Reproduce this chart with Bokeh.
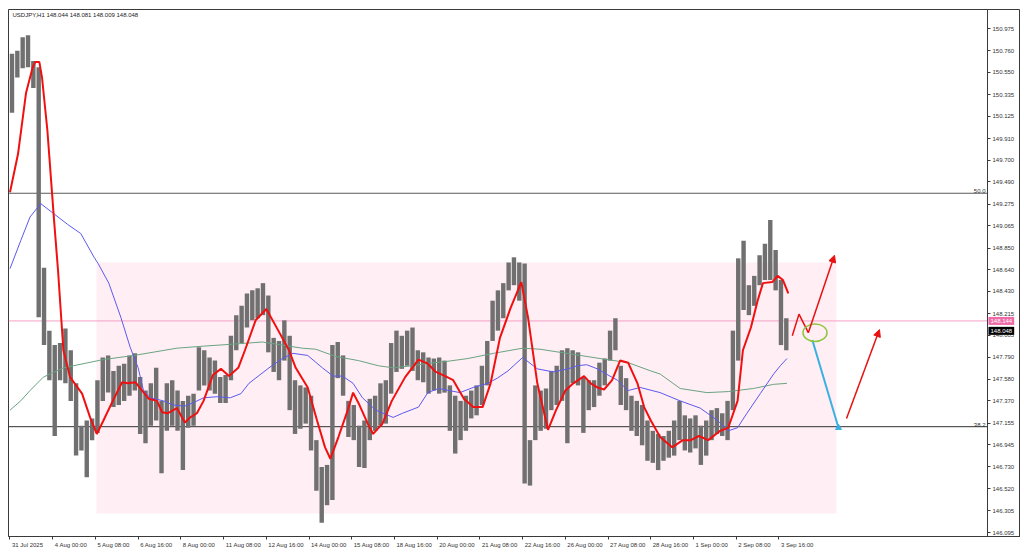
from bokeh.plotting import figure
from bokeh.models import (Range1d, FixedTicker, Label, ColumnDataSource, Arrow, NormalHead)
from bokeh.embed import file_html
from bokeh.resources import INLINE

# ---------------- data ----------------
symbol_info = "USDJPY,H1  148.044 148.081 148.009 148.048"

# H1 bars grouped by 4 hours (high / low), starting 31 Jul 2025 16:00
bars_per_group = 4
bar_high = [150.73, 150.76, 150.89, 150.91, 150.66, 150.60, 148.66, 148.05, 147.91, 147.93,
            148.07, 147.86, 147.54, 147.13, 147.18, 147.20, 147.57, 147.79, 147.81, 147.66,
            147.71, 147.73, 147.81, 147.83, 147.60, 147.47, 147.54, 147.69, 147.37, 147.54,
            147.57, 147.47, 147.37, 147.42, 147.44, 147.89, 147.86, 147.79, 147.76, 147.60,
            147.62, 148.00, 148.20, 148.29, 148.41, 148.44, 148.46, 148.51, 148.39, 147.98,
            147.95, 148.15, 148.00, 147.57, 147.52, 147.50, 147.42, 146.99, 146.73, 146.75,
            147.91, 147.94, 147.81, 147.37, 147.33, 147.13, 147.18, 147.39, 147.42, 147.54,
            147.57, 147.93, 148.05, 148.00, 148.05, 148.08, 147.86, 147.84, 147.79, 147.78,
            147.79, 147.76, 147.52, 147.42, 147.37, 147.42, 147.47, 147.52, 147.71, 147.95,
            148.34, 148.44, 148.51, 148.71, 148.76, 148.71, 148.70, 146.99, 147.52, 147.47,
            147.49, 147.66, 147.71, 147.86, 147.88, 147.86, 147.84, 147.60, 147.57, 147.57,
            147.74, 147.78, 148.05, 148.17, 147.71, 147.59, 147.42, 147.37, 147.33, 147.18,
            147.08, 147.05, 147.03, 147.08, 147.18, 147.37, 147.23, 147.20, 147.23, 147.13,
            147.18, 147.28, 147.30, 147.25, 147.37, 148.05, 148.75, 148.92, 148.49, 148.58,
            148.78, 148.89, 149.12, 148.83, 148.54, 148.17]
bar_low = [150.16, 150.50, 150.59, 150.60, 150.40, 148.18, 147.91, 147.57, 147.03, 147.57,
           147.54, 147.37, 146.84, 146.89, 146.63, 146.99, 147.06, 147.37, 147.45, 147.31,
           147.33, 147.37, 147.42, 147.47, 147.05, 146.96, 147.13, 147.18, 146.67, 147.08,
           147.13, 147.08, 146.70, 147.11, 147.13, 147.47, 147.52, 147.47, 147.44, 147.35,
           147.35, 147.57, 147.86, 147.93, 148.08, 148.15, 148.17, 148.20, 147.84, 147.65,
           147.57, 147.76, 147.28, 147.05, 147.10, 147.15, 146.89, 146.50, 146.19, 146.36,
           146.41, 147.59, 147.42, 147.02, 146.99, 146.73, 146.72, 146.99, 147.08, 147.13,
           147.15, 147.44, 147.65, 147.68, 147.71, 147.66, 147.57, 147.55, 147.44, 147.47,
           147.44, 147.45, 147.08, 146.86, 146.99, 147.08, 147.20, 147.23, 147.33, 147.52,
           147.95, 148.05, 148.17, 148.44, 148.49, 148.34, 146.57, 146.55, 146.99, 147.08,
           147.10, 147.28, 147.33, 147.37, 146.96, 147.54, 147.52, 147.06, 147.28, 147.31,
           147.42, 147.52, 147.76, 147.86, 147.33, 147.28, 147.08, 147.03, 146.94, 146.79,
           146.77, 146.70, 146.79, 146.82, 146.84, 146.99, 146.89, 146.87, 146.91, 146.75,
           146.84, 146.99, 147.05, 147.03, 146.99, 147.28, 147.76, 148.25, 148.20, 148.29,
           148.49, 148.54, 148.54, 148.44, 147.91, 147.86]

# fast (red) moving average: bar index / price
red_x = [0, 6, 12, 17, 19, 22, 24, 28, 33, 36, 40, 45, 54, 60, 65, 70, 77, 84, 88, 94,
         99, 104, 110, 114, 118, 125, 131, 135, 140, 145, 152, 158, 164, 171, 176, 184, 192, 201, 209, 214,
         223, 230, 236, 240, 246, 253, 257, 261, 268, 272, 279, 286, 296, 306, 313, 319, 326, 332, 340, 347,
         354, 360, 367, 375, 383, 388, 395, 403, 409, 416, 422, 430, 435, 440, 445, 451, 457, 463, 470, 475,
         480, 487, 496, 504, 510, 516, 523, 532, 538, 545, 549, 555, 560, 564, 571, 575, 579, 583]
red_y = [149.39, 149.76, 150.35, 150.60, 150.65, 150.65, 150.50, 149.99, 149.12, 148.63,
         147.86, 147.60, 147.44, 147.21, 147.05, 147.18, 147.37, 147.55, 147.54, 147.55,
         147.47, 147.39, 147.37, 147.26, 147.25, 147.30, 147.16, 147.21, 147.25, 147.37,
         147.62, 147.68, 147.61, 147.69, 147.86, 148.15, 148.26, 148.05, 147.86, 147.69,
         147.50, 147.18, 146.92, 146.81, 147.02, 147.28, 147.45, 147.35, 147.15, 147.05,
         147.15, 147.37, 147.60, 147.77, 147.73, 147.65, 147.61, 147.57, 147.39, 147.31,
         147.31, 147.54, 147.98, 148.27, 148.52, 148.18, 147.54, 147.09, 147.28, 147.47,
         147.54, 147.61, 147.54, 147.50, 147.48, 147.57, 147.76, 147.74, 147.54, 147.31,
         147.18, 147.02, 146.92, 146.99, 146.99, 147.03, 146.99, 147.08, 147.11, 147.37,
         147.86, 148.08, 148.34, 148.51, 148.52, 148.58, 148.54, 148.41]

# medium (blue) moving average
blue_x = [0, 8, 15, 23, 30, 36, 43, 53, 63, 66, 74, 83, 90, 96, 100, 105, 115, 122, 131, 137,
          145, 155, 165, 173, 179, 194, 204, 212, 223, 234, 242, 249, 257, 264, 274, 287, 294, 306, 313, 321,
          329, 337, 347, 358, 365, 373, 384, 395, 407, 418, 425, 432, 440, 448, 455, 463, 472, 487, 502, 517,
          530, 538, 545, 552, 562, 572, 577, 582]
blue_y = [148.65, 148.92, 149.15, 149.28, 149.21, 149.15, 149.08, 148.99, 148.76, 148.70,
          148.51, 148.18, 147.89, 147.69, 147.47, 147.40, 147.37, 147.33, 147.32, 147.35,
          147.40, 147.41, 147.40, 147.44, 147.54, 147.69, 147.78, 147.83, 147.81, 147.69,
          147.61, 147.61, 147.54, 147.40, 147.28, 147.21, 147.25, 147.31, 147.45, 147.49,
          147.47, 147.45, 147.50, 147.54, 147.59, 147.66, 147.79, 147.68, 147.65, 147.68,
          147.71, 147.72, 147.68, 147.62, 147.57, 147.47, 147.50, 147.45, 147.37, 147.30,
          147.18, 147.08, 147.11, 147.25, 147.44, 147.63, 147.71, 147.78]

# slow (green) moving average
green_x = [0, 8, 15, 25, 40, 70, 93, 125, 145, 168, 189, 204, 219, 229, 244, 261, 276, 287, 301, 311,
           326, 343, 362, 384, 397, 422, 442, 463, 480, 487, 502, 522, 538, 557, 572, 582]
green_y = [147.28, 147.37, 147.47, 147.60, 147.69, 147.77, 147.81, 147.88, 147.90, 147.92,
           147.94, 147.91, 147.88, 147.87, 147.80, 147.76, 147.71, 147.69, 147.71, 147.73,
           147.75, 147.78, 147.83, 147.88, 147.87, 147.82, 147.78, 147.74, 147.66, 147.63,
           147.49, 147.45, 147.46, 147.49, 147.53, 147.54]

# axes
x_tick_bars = [0, 32, 64, 96, 128, 160, 192, 224, 256, 288, 320, 352, 384, 416, 448, 480, 512, 544, 576]
x_tick_labels = ["31 Jul 2025", "4 Aug 00:00", "5 Aug 08:00", "6 Aug 16:00", "8 Aug 00:00",
                 "11 Aug 08:00", "12 Aug 16:00", "14 Aug 00:00", "15 Aug 08:00", "18 Aug 16:00",
                 "20 Aug 00:00", "21 Aug 08:00", "22 Aug 16:00", "26 Aug 00:00", "27 Aug 08:00",
                 "28 Aug 16:00", "1 Sep 00:00", "2 Sep 08:00", "3 Sep 16:00"]
y_ticks = [150.975, 150.760, 150.550, 150.335, 150.125, 149.910, 149.700, 149.490, 149.275, 149.065,
           148.850, 148.640, 148.430, 148.215, 148.005, 147.790, 147.580, 147.370, 147.155, 146.945,
           146.730, 146.520, 146.305, 146.095]
y_tick_labels = ["150.975", "150.760", "150.550", "150.335", "150.125", "149.910", "149.700", "149.490",
                 "149.275", "149.065", "148.850", "148.640", "148.430", "148.215", "148.005", "147.790",
                 "147.580", "147.370", "147.155", "146.945", "146.730", "146.520", "146.305", "146.095"]

# drawings
fib_levels = [149.38, 147.12]
fib_names = ["50.0", "38.2"]
fib_colors = ["#5a5a5a", "#303030"]
zone_left, zone_right, zone_top, zone_bottom = 64.8, 619.0, 148.71, 146.28
ask_price, ask_text = 148.144, "148.144"
last_price, last_text = 148.048, "148.048"
zig_x = [586, 591, 598]
zig_y = [148.00, 148.21, 148.03]
arrow1 = (598, 148.03, 617.6, 148.78)
arrow2 = (626.6, 147.20, 651.3, 148.06)
blue_leg_x = [601, 620.6]
blue_leg_y = [147.96, 147.11]
circle_x, circle_y, circle_w, circle_h = 603, 148.03, 18, 0.17

# ---------------- layout ----------------
FONT = "Liberation Sans"
FS = 6  # px
X_START, X_END = -1.12, 756.93      # frame spans the full width up to the window edge
PRICE_AXIS_X = 732.2                # chart's right border (where the price scale sits)
FRAME_W = 1012
px_per_bar = FRAME_W / (X_END - X_START)

# approximate Arial/Liberation advance widths, used to left-align the date labels after their tick
ADV = {**{d: 0.556 for d in "0123456789"}, " ": 0.278, ":": 0.278, "A": 0.667, "u": 0.556,
       "g": 0.556, "J": 0.5, "l": 0.222, "S": 0.667, "e": 0.556, "p": 0.556}


def text_px(s):
    return sum(ADV.get(c, 0.556) for c in s) * FS


x_label_pos = [t + (2 + text_px(s) / 2) / px_per_bar for t, s in zip(x_tick_bars, x_tick_labels)]

p = figure(width=1020, height=553, output_backend="svg", toolbar_location=None,
           x_range=Range1d(X_START, X_END), y_range=Range1d(146.057, 151.159),
           y_axis_location="right", min_border_left=8, min_border_right=0,
           min_border_top=9, min_border_bottom=17)
p.xgrid.visible = False
p.ygrid.visible = False
p.outline_line_color = "#3a3a3a"
p.background_fill_color = "white"
p.border_fill_color = "white"

# zone
p.quad(left=[zone_left], right=[zone_right], top=[zone_top], bottom=[zone_bottom],
       fill_color="#ffeef4", line_color=None)

# horizontal levels (up to the price scale)
p.segment(x0=[X_START] * 2, x1=[PRICE_AXIS_X] * 2, y0=fib_levels, y1=fib_levels,
          line_color=fib_colors, line_width=1)
p.segment(x0=[X_START], x1=[PRICE_AXIS_X], y0=[ask_price], y1=[ask_price],
          line_color="#f4a0c4", line_width=1)

# bars
bar_x = [bars_per_group * g + 1.5 for g in range(len(bar_high))]
src = ColumnDataSource(dict(x=bar_x, top=bar_high, bottom=bar_low))
p.vbar(x="x", top="top", bottom="bottom", width=3.3, source=src,
       fill_color="#707070", line_color=None)

# moving averages
p.line(green_x, green_y, line_color="#6aa382", line_width=1)
p.line(blue_x, blue_y, line_color="#5a5af0", line_width=1)
p.line(red_x, red_y, line_color="#f01010", line_width=2)

# hand-drawn annotations
p.line(zig_x, zig_y, line_color="#e81010", line_width=1.5)
for (xs, ys, xe, ye) in (arrow1, arrow2):
    p.add_layout(Arrow(end=NormalHead(size=7, fill_color="#e81010", line_color="#e81010"),
                       x_start=xs, y_start=ys, x_end=xe, y_end=ye,
                       line_color="#e81010", line_width=1.5))
p.line(blue_leg_x, blue_leg_y, line_color="#3ab0e2", line_width=2)
p.scatter([blue_leg_x[-1]], [blue_leg_y[-1]], marker="triangle", size=6,
          fill_color="#3ab0e2", line_color="#3ab0e2")
p.ellipse(x=[circle_x], y=[circle_y], width=circle_w, height=circle_h,
          fill_color=None, line_color="#8cc63f", line_width=1.5)

# price axis, drawn at the chart's right border
yax = p.yaxis[0]
yax.fixed_location = PRICE_AXIS_X
yax.ticker = FixedTicker(ticks=y_ticks)
yax.major_label_overrides = {t: s for t, s in zip(y_ticks, y_tick_labels)}
yax.major_tick_out = 3
yax.major_tick_in = 0
yax.minor_tick_out = 0
yax.minor_tick_in = 0
yax.major_label_standoff = 2
yax.major_label_text_font = FONT
yax.major_label_text_font_size = f"{FS}px"
yax.major_label_text_color = "#333333"
yax.axis_line_color = "#3a3a3a"
yax.major_tick_line_color = "#3a3a3a"

# time axis: tick marks at the bar (minor ticks), labels placed just right of them
xax = p.xaxis[0]
xax.ticker = FixedTicker(ticks=x_label_pos, minor_ticks=x_tick_bars)
xax.major_label_overrides = {t: s for t, s in zip(x_label_pos, x_tick_labels)}
xax.major_tick_out = 0
xax.major_tick_in = 0
xax.minor_tick_out = 3
xax.minor_tick_in = 0
xax.major_label_standoff = 2
xax.major_label_text_font = FONT
xax.major_label_text_font_size = f"{FS}px"
xax.major_label_text_color = "#333333"
xax.axis_line_color = "#3a3a3a"
xax.minor_tick_line_color = "#3a3a3a"

# fib level names
for lvl, name in zip(fib_levels, fib_names):
    p.add_layout(Label(x=PRICE_AXIS_X, y=lvl, x_offset=-2, text=name, text_align="right",
                       text_baseline="bottom", text_font=FONT, text_font_size=f"{FS}px",
                       text_color="#333333"))

# price tags on the scale
p.add_layout(Label(x=PRICE_AXIS_X, y=ask_price, x_offset=1, text=ask_text, text_align="left",
                   text_baseline="middle", text_font=FONT, text_font_size=f"{FS}px",
                   text_color="white", background_fill_color="#f06aa8", padding=2))
p.add_layout(Label(x=PRICE_AXIS_X, y=last_price, x_offset=1, text=last_text, text_align="left",
                   text_baseline="middle", text_font=FONT, text_font_size=f"{FS}px",
                   text_color="white", background_fill_color="black", padding=2))

# symbol header
p.add_layout(Label(x=4, y=522, x_units="screen", y_units="screen", text=symbol_info,
                   text_baseline="middle", text_font=FONT, text_font_size=f"{FS}px",
                   text_color="#222222"))

open("out.html", "w").write(file_html(p, INLINE))
